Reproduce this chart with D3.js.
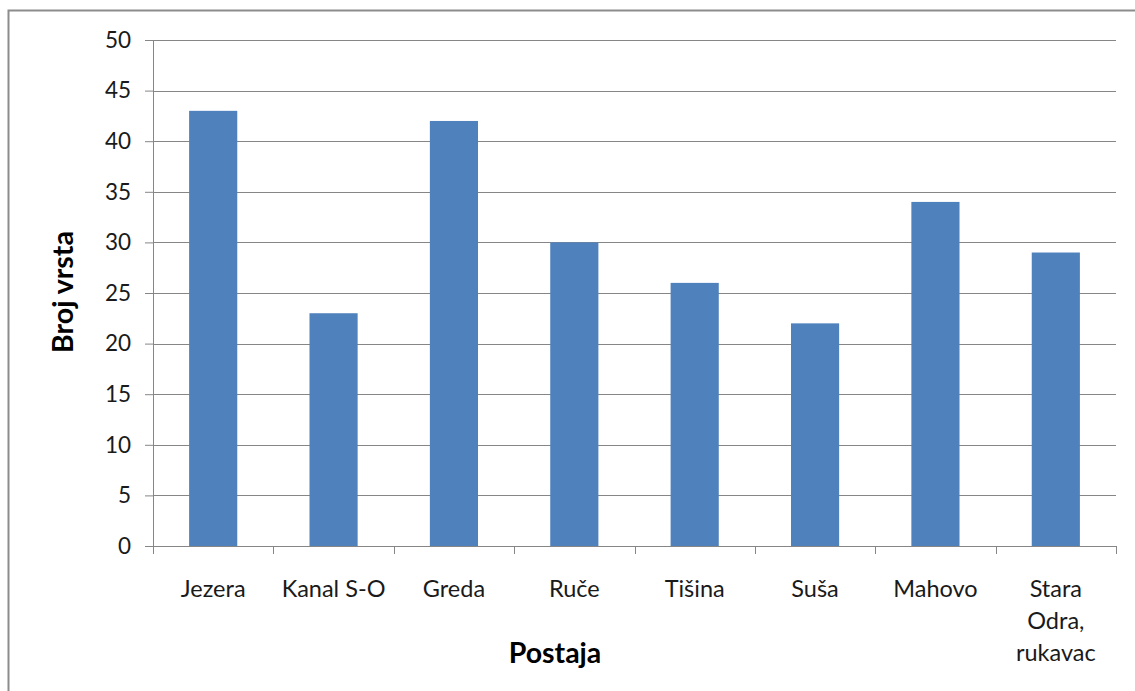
<!DOCTYPE html>
<html>
<head>
<meta charset="utf-8">
<script src="https://cdn.jsdelivr.net/npm/d3@7"></script>
<style>
  body { margin: 0; background: #fff; }
  svg { display: block; font-family: Lato, "Open Sans", sans-serif; }
</style>
</head>
<body>
<div id="chart"></div>
<script>
const stations = ["Jezera", "Kanal S-O", "Greda", "Ruče", "Tišina", "Suša", "Mahovo", "Stara Odra, rukavac"];
const speciesCount = [43, 23, 42, 30, 26, 22, 34, 29];
const yTicks = [0, 5, 10, 15, 20, 25, 30, 35, 40, 45, 50];

const width = 1135;
const height = 691;
const margin = { left: 153, right: 19, top: 40, bottom: 145 };

const svg = d3.select("#chart")
    .append("svg")
    .attr("width", width)
    .attr("height", height);

// chart frame, only left and top edges fall inside the picture
svg.append("rect")
    .attr("x", 8.5)
    .attr("y", 10.5)
    .attr("width", width)
    .attr("height", height)
    .attr("fill", "none")
    .attr("stroke", "#8c8c8c")
    .attr("stroke-width", 2);

const x = d3.scaleBand()
    .domain(stations)
    .range([margin.left, width - margin.right])
    .paddingInner(0.6)
    .paddingOuter(0.3);

const xCat = d3.scaleBand()
    .domain(stations)
    .range([margin.left, width - margin.right]);

const y = d3.scaleLinear()
    .domain([0, 50])
    .range([height - margin.bottom, margin.top]);

// y ticks
const yAxis = svg.append("g")
    .attr("transform", `translate(${margin.left},0)`)
    .call(d3.axisLeft(y).tickValues(yTicks).tickSize(8).tickPadding(14));

yAxis.select(".domain").attr("stroke", "#868686");
yAxis.selectAll(".tick line").attr("stroke", "#868686");
yAxis.selectAll(".tick text")
    .attr("font-size", 22.5)
    .attr("fill", "#1a1a1a")
    .attr("font-family", "Lato, sans-serif");

// gridlines
svg.append("g")
    .selectAll("line")
    .data(yTicks.filter(d => d > 0))
    .join("line")
    .attr("x1", margin.left)
    .attr("x2", width - margin.right)
    .attr("y1", d => Math.round(y(d)) + 0.5)
    .attr("y2", d => Math.round(y(d)) + 0.5)
    .attr("stroke", "#868686")
    .attr("stroke-width", 1);

// bars
svg.append("g")
    .selectAll("rect")
    .data(speciesCount)
    .join("rect")
    .attr("x", (d, i) => x(stations[i]))
    .attr("y", d => y(d))
    .attr("width", x.bandwidth())
    .attr("height", d => y(0) - y(d))
    .attr("fill", "#4f81bd");

// x axis with ticks between categories
const xAxisG = svg.append("g")
    .attr("transform", `translate(0,${y(0)})`);

xAxisG.append("line")
    .attr("x1", margin.left - 8)
    .attr("x2", width - margin.right)
    .attr("y1", 0.5)
    .attr("y2", 0.5)
    .attr("stroke", "#868686");

xAxisG.selectAll(".xtick")
    .data(stations.map(s => xCat(s)).concat([width - margin.right]))
    .join("line")
    .attr("class", "xtick")
    .attr("x1", d => Math.round(d) + 0.5)
    .attr("x2", d => Math.round(d) + 0.5)
    .attr("y1", 0)
    .attr("y2", 8)
    .attr("stroke", "#868686");

const labelLines = {
    "Stara Odra, rukavac": ["Stara", "Odra,", "rukavac"]
};

const xLabels = xAxisG.selectAll(".xlabel")
    .data(stations)
    .join("text")
    .attr("class", "xlabel")
    .attr("x", d => xCat(d) + xCat.bandwidth() / 2)
    .attr("y", 51)
    .attr("text-anchor", "middle")
    .attr("font-size", 23.5)
    .attr("fill", "#1a1a1a");

xLabels.each(function(d) {
    const lines = labelLines[d] || [d];
    const t = d3.select(this);
    lines.forEach((ln, i) => {
        t.append("tspan")
            .attr("x", xCat(d) + xCat.bandwidth() / 2)
            .attr("dy", i === 0 ? 0 : 32)
            .text(ln);
    });
});

// axis titles
svg.append("text")
    .attr("transform", "translate(73,292) rotate(-90)")
    .attr("text-anchor", "middle")
    .attr("font-size", 28.5)
    .attr("font-weight", "bold")
    .attr("fill", "#000")
    .text("Broj vrsta");

svg.append("text")
    .attr("x", 555)
    .attr("y", 663)
    .attr("text-anchor", "middle")
    .attr("font-size", 28.5)
    .attr("font-weight", "bold")
    .attr("fill", "#000")
    .text("Postaja");
</script>
</body>
</html>
